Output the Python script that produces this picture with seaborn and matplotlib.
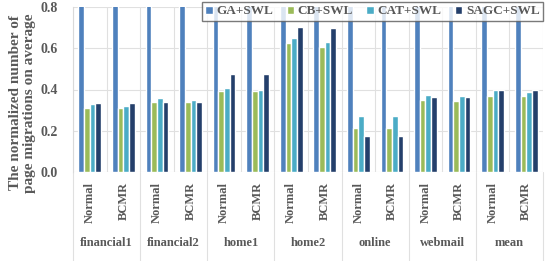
import numpy as np
import pandas as pd
import matplotlib
matplotlib.use("Agg")
import matplotlib.pyplot as plt
import matplotlib.transforms as mtransforms
import seaborn as sns

# data
categories = ["financial1", "financial2", "home1", "home2", "online", "webmail", "mean"]
modes = ["Normal", "BCMR"]
methods = ["GA+SWL", "CB+SWL", "CAT+SWL", "SAGC+SWL"]

# GA+SWL runs off the top of the chart (clipped at 0.8)
ga_swl = [1.0] * 14
cb_swl = [0.31, 0.31, 0.34, 0.34, 0.395, 0.395, 0.626, 0.607, 0.214, 0.214, 0.35, 0.346, 0.37, 0.37]
cat_swl = [0.33, 0.32, 0.36, 0.35, 0.405, 0.40, 0.65, 0.63, 0.272, 0.27, 0.374, 0.369, 0.398, 0.39]
sagc_swl = [0.335, 0.335, 0.34, 0.34, 0.475, 0.475, 0.704, 0.70, 0.175, 0.175, 0.364, 0.364, 0.398, 0.398]

colors = ["#4F81BD", "#9BBB59", "#4BACC6", "#243F6B"]
grey = "#595959"

sns.set_style("white")
plt.rcParams["font.family"] = ["Liberation Serif", "DejaVu Serif"]
plt.rcParams["font.weight"] = "bold"

positions = [f"{c}|{m}" for c in categories for m in modes]
rows = []
for name, vals in zip(methods, [ga_swl, cb_swl, cat_swl, sagc_swl]):
    for p, v in zip(positions, vals):
        rows.append({"pos": p, "method": name, "value": v})
df = pd.DataFrame(rows)

fig = plt.figure(figsize=(5.52, 2.61), dpi=100)
ax = fig.add_axes([73 / 552, 1 - 172 / 261, (543 - 73) / 552, 165 / 261])

sns.barplot(data=df, x="pos", y="value", hue="method", order=positions,
            hue_order=methods, palette=colors, width=0.68, gap=0,
            errorbar=None, ax=ax, saturation=1, zorder=3)

ax.set_ylim(0, 0.8)
ax.set_xlim(-0.5, len(positions) - 0.5)
ax.set_yticks([0.0, 0.2, 0.4, 0.6, 0.8])
ax.set_yticklabels(["0.0", "0.2", "0.4", "0.6", "0.8"], fontsize=10, color=grey, fontweight="bold")
ax.set_xticks(range(len(positions)))
ax.set_xticklabels(modes * len(categories), rotation=90, fontsize=9, color=grey, fontweight="bold")
ax.tick_params(axis="both", length=0)
ax.tick_params(axis="x", pad=7)
ax.tick_params(axis="y", pad=11)
ax.set_xlabel("")
ax.set_ylabel("")
fig.text(23 / 552, 1 - 103 / 261, "The normalized number of\npage migrations on average",
         rotation=90, ha="center", va="center", fontsize=11, color=grey,
         fontweight="bold", linespacing=1.1)

# gridlines
ax.set_xticks(np.arange(-0.5, len(positions), 1.0), minor=True)
ax.grid(axis="y", which="major", color="#E0E0E0", linewidth=0.8, zorder=0)
ax.grid(axis="x", which="minor", color="#E0E0E0", linewidth=0.8, zorder=0)
for s in ax.spines.values():
    s.set_visible(False)
ax.spines["left"].set_visible(True)
ax.spines["left"].set_color("#D9D9D9")

# category labels and separators below the axis
trans = mtransforms.blended_transform_factory(ax.transData, ax.transAxes)
for i, c in enumerate(categories):
    ax.text(2 * i + 0.5, -0.43, c, transform=trans, ha="center", va="center",
            fontsize=9, color=grey, fontweight="bold")
for b in np.arange(-0.5, len(positions), 2.0):
    ax.plot([b, b], [0, -0.56], transform=trans, color="#E0E0E0", linewidth=0.8, clip_on=False)

leg = ax.legend(loc="upper right", ncol=4, fontsize=9.5, frameon=True, fancybox=False,
                handlelength=0.55, handleheight=0.55, handletextpad=0.3, columnspacing=1.0,
                borderpad=0.25, borderaxespad=0, bbox_to_anchor=(1.0, 1.03))
leg.get_frame().set_edgecolor("#595959")
leg.get_frame().set_linewidth(1.0)
leg.set_zorder(5)
for t in leg.get_texts():
    t.set_color(grey)
    t.set_fontweight("bold")

fig.savefig("out.png", dpi=100)
